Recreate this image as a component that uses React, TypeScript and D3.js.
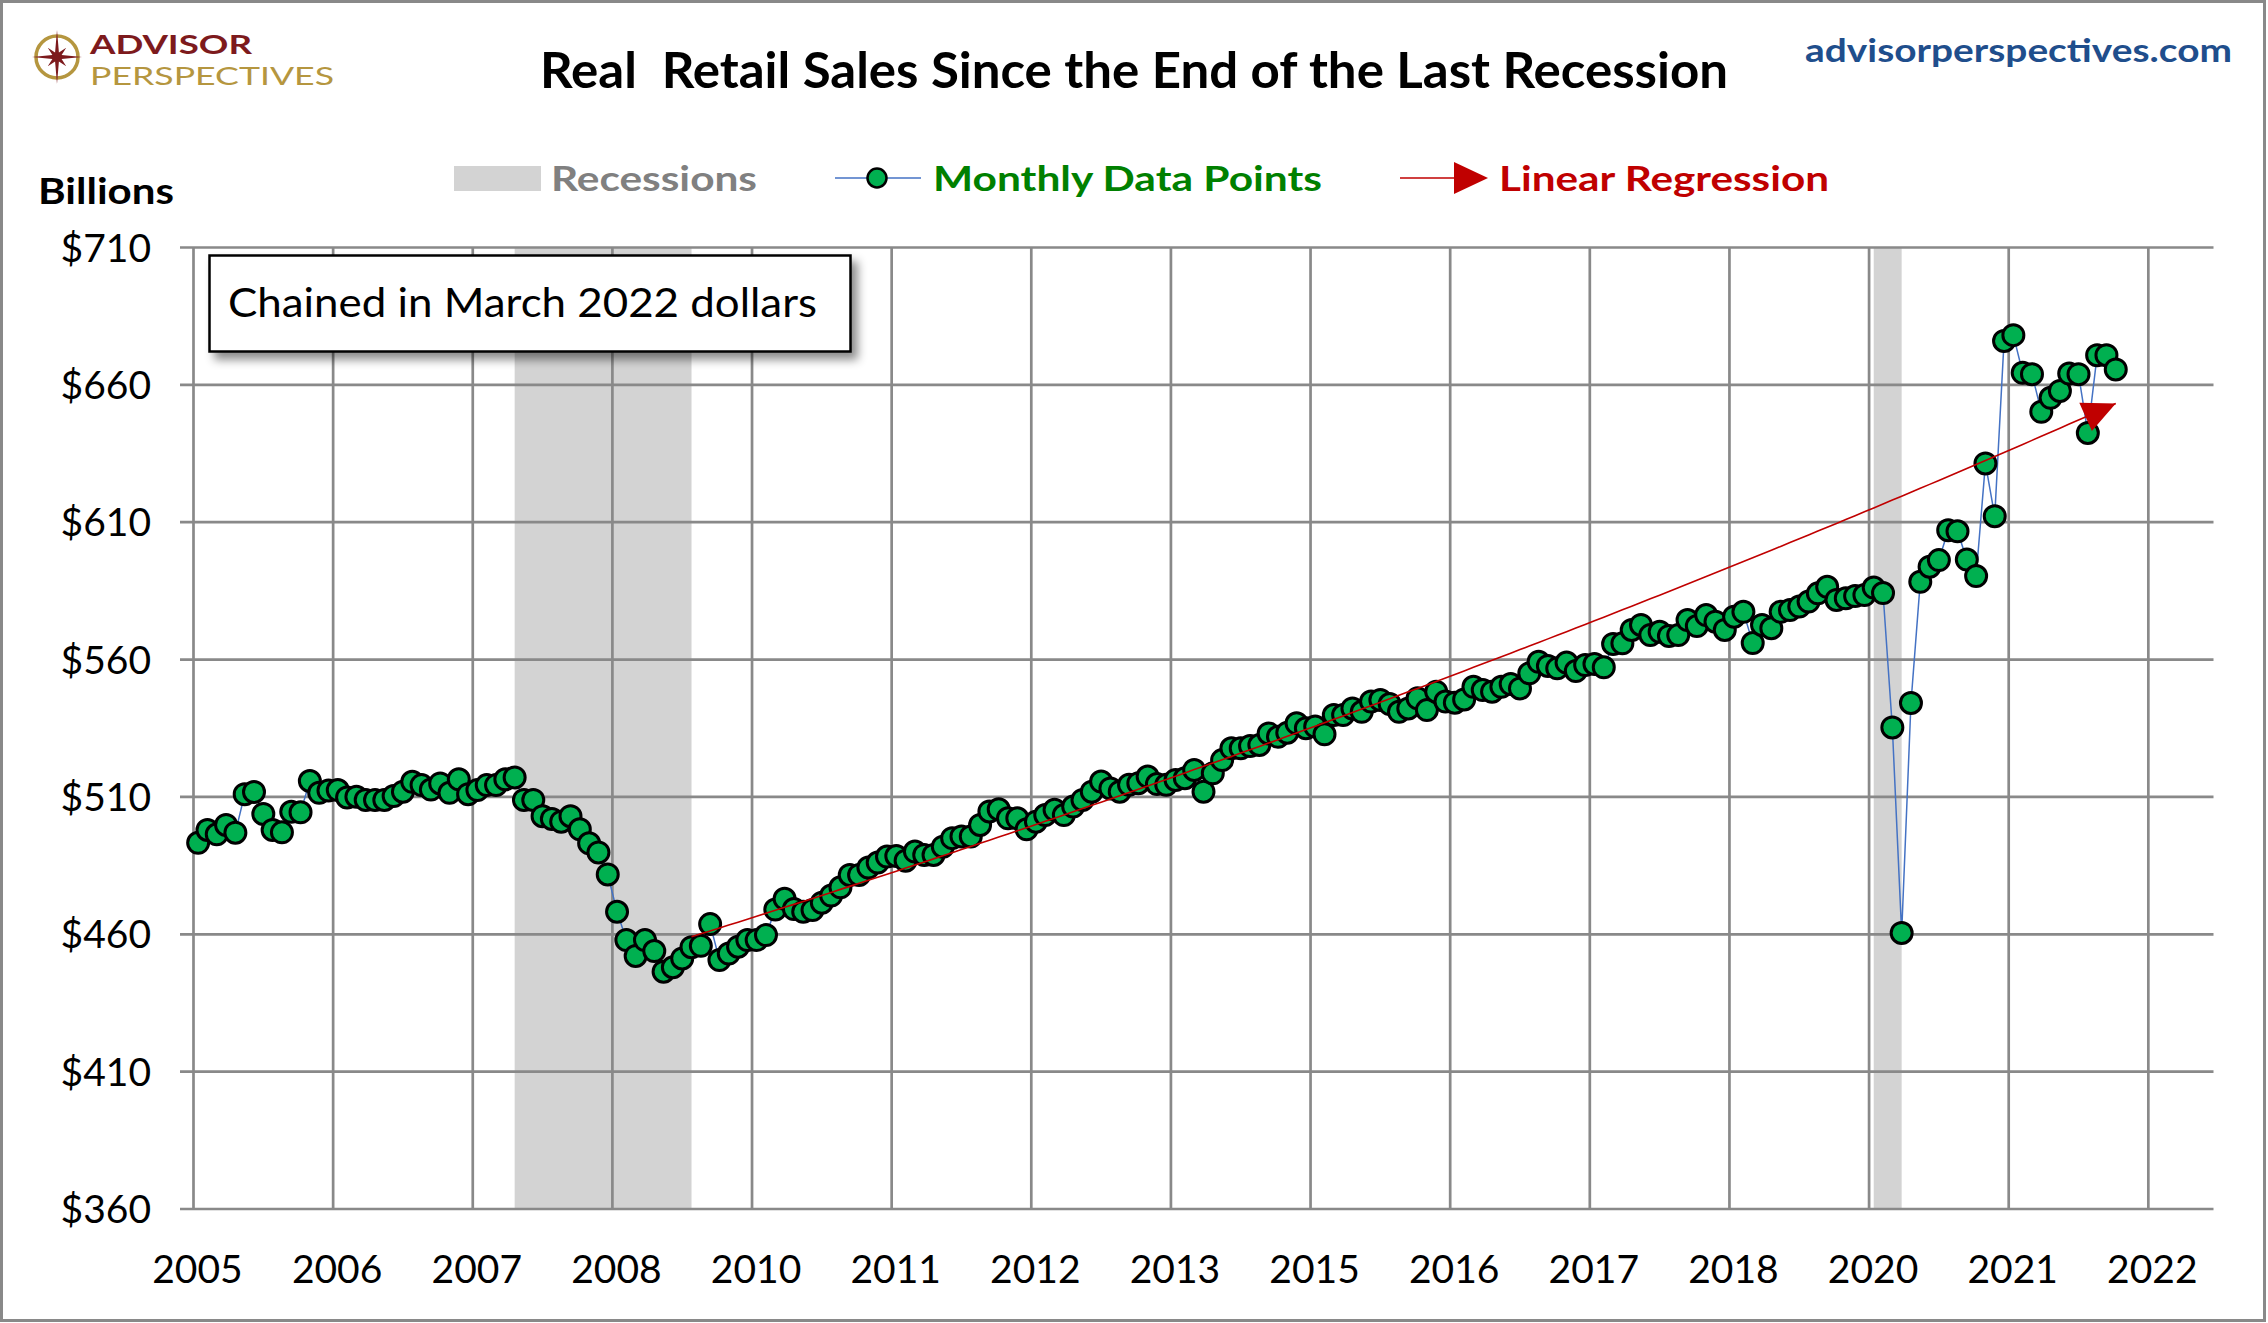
import React from 'react';
import * as d3 from 'd3';

// ---------- data ----------
const START_YEAR = 2005; // first month of the series: January 2005
const salesValues: number[] = [
  // 2005
  493.3, 498.0, 496.4, 499.8, 497.0, 511.0, 511.8, 503.8, 498.0, 497.1, 504.6, 504.4,
  // 2006
  515.8, 511.5, 512.3, 512.5, 509.8, 510.1, 508.9, 508.9, 508.9, 510.3, 511.9, 515.5,
  // 2007
  514.3, 512.7, 514.9, 511.5, 516.4, 511.0, 512.5, 514.3, 514.3, 516.4, 517.1, 508.9,
  // 2008
  508.9, 503.0, 502.0, 501.0, 503.0, 498.2, 493.1, 489.8, 481.8, 468.2, 457.9, 452.1,
  // 2009
  457.9, 453.9, 446.4, 448.0, 451.2, 455.3, 455.8, 463.7, 450.6, 453.0, 455.5, 457.9,
  // 2010
  457.9, 459.7, 469.0, 472.9, 469.2, 468.2, 468.8, 471.5, 474.1, 477.1, 481.6, 481.6,
  // 2011
  484.3, 486.1, 488.3, 488.5, 486.8, 490.1, 488.9, 488.9, 491.9, 495.0, 495.6, 495.6,
  // 2012
  499.8, 504.7, 505.5, 502.2, 502.2, 498.2, 501.0, 503.4, 505.3, 503.4, 506.5, 508.9,
  // 2013
  511.9, 515.6, 513.1, 511.9, 514.4, 515.0, 517.4, 514.7, 514.4, 516.2, 516.8, 519.8,
  // 2014
  511.9, 518.6, 523.4, 527.7, 527.7, 528.5, 528.9, 533.1, 531.9, 533.4, 536.8, 535.0,
  // 2015
  535.6, 532.8, 539.8, 539.8, 542.2, 541.0, 544.7, 545.3, 543.8, 541.0, 542.2, 545.9,
  // 2016
  541.6, 548.3, 544.7, 544.3, 545.5, 550.1, 548.9, 548.3, 550.1, 551.1, 549.5, 555.0,
  // 2017
  559.2, 557.7, 556.8, 558.9, 555.8, 558.0, 558.4, 557.2, 565.7, 565.9, 570.8, 572.6,
  // 2018
  568.9, 570.1, 568.6, 568.9, 574.4, 572.2, 576.2, 573.8, 570.8, 575.6, 577.4, 566.0,
  // 2019
  572.6, 571.4, 577.4, 578.0, 579.3, 581.1, 584.1, 586.5, 581.7, 582.3, 583.1, 583.5,
  // 2020
  586.2, 584.2, 535.3, 460.5, 544.2, 588.3, 593.8, 596.2, 607.1, 606.7, 596.4, 590.4,
  // 2021
  631.4, 612.2, 676.0, 678.1, 664.4, 663.9, 650.2, 655.3, 657.8, 664.1, 663.9, 642.5,
  // 2022
  670.8, 670.8, 665.6,
];

const yTicks: number[] = [360, 410, 460, 510, 560, 610, 660, 710];
const xTickLabels: string[] = [
  '2005', '2006', '2007', '2008', '2010', '2011', '2012', '2013',
  '2015', '2016', '2017', '2018', '2020', '2021', '2022',
];
const X_TICK_STEP_MONTHS = 15;
const X_AXIS_MONTHS = 217;

const recessions: { start: [number, number]; end: [number, number] }[] = [
  { start: [2007, 12], end: [2009, 6] },
  { start: [2020, 2], end: [2020, 4] },
];

// log-linear trend shown on the chart (end points)
const regressionStart: [number, number] = [2009, 6];
const regressionEnd: [number, number] = [2022, 3];
const regressionStartValue = 459.1;
const regressionEndValue = 653.2;

// ---------- helpers ----------
const monthIndex = ([yr, mo]: [number, number]) => (yr - START_YEAR) * 12 + (mo - 1);

const W = 2268;
const H = 1323;
const PLOT = { left: 193.5, right: 2213.5, top: 247.5, bottom: 1209 };

const FONT = "Lato, 'Open Sans', 'DejaVu Sans', sans-serif";
const GRID = '#898989';

export default function App() {
  const x = d3.scaleLinear().domain([0, X_AXIS_MONTHS]).range([PLOT.left, PLOT.right]);
  const y = d3.scaleLinear().domain([360, 710]).range([PLOT.bottom, PLOT.top]);

  const points = salesValues.map((v, i) => ({ m: i + 0.5, v }));
  const line = d3
    .line<{ m: number; v: number }>()
    .x((d) => x(d.m))
    .y((d) => y(d.v));

  // regression curve
  const r0 = monthIndex(regressionStart) + 0.5;
  const r1 = monthIndex(regressionEnd) + 0.5;
  const regPts = d3.range(r0, r1 + 0.001, 1).map((m) => ({
    m,
    v: regressionStartValue * Math.pow(regressionEndValue / regressionStartValue, (m - r0) / (r1 - r0)),
  }));
  const regPath = line(regPts) || '';
  const tip = regPts[regPts.length - 1];
  const prev = regPts[regPts.length - 2];
  const ang = Math.atan2(y(tip.v) - y(prev.v), x(tip.m) - x(prev.m));
  const tx = x(tip.m);
  const ty = y(tip.v);
  const aLen = 33;
  const aHalf = 15.5;
  const bx = tx - aLen * Math.cos(ang);
  const by = ty - aLen * Math.sin(ang);
  const arrow = [
    [tx, ty],
    [bx + aHalf * Math.sin(ang), by - aHalf * Math.cos(ang)],
    [bx - aHalf * Math.sin(ang), by + aHalf * Math.cos(ang)],
  ]
    .map((p) => p.join(','))
    .join(' ');

  const xTicks = xTickLabels.map((label, k) => ({ label, m: k * X_TICK_STEP_MONTHS }));

  // compass star for the logo
  const cx = 57;
  const cy = 57;
  const star = d3
    .range(16)
    .map((k) => {
      const a = ((-90 + k * 22.5) * Math.PI) / 180;
      let r = 5;
      if (k % 2 === 0) r = k % 4 === 0 ? (k % 8 === 0 ? 27 : 25) : 13;
      return [cx + r * Math.cos(a), cy + r * Math.sin(a)].join(',');
    })
    .join(' ');

  return (
    <svg
      width={W}
      height={H}
      viewBox={`0 0 ${W} ${H}`}
      style={{ position: 'absolute', left: 0, top: 0, display: 'block' }}
      fontFamily={FONT}
    >
      <defs>
        <filter id="boxShadow" x="-10%" y="-20%" width="130%" height="160%">
          <feDropShadow dx="6" dy="7" stdDeviation="5" floodColor="#000" floodOpacity="0.45" />
        </filter>
      </defs>
      <rect x={1.5} y={1.5} width={W - 5} height={H - 4} fill="#fff" stroke={GRID} strokeWidth={3} />

      {/* logo */}
      <circle cx={cx} cy={cy} r={21} fill="none" stroke="#B5963F" strokeWidth={3.5} />
      <polygon points={star} fill="#7D1A1D" />
      <text x={90} y={54} fontSize={27} fontWeight={700} fill="#7D1A1D" textLength={162} lengthAdjust="spacingAndGlyphs">
        ADVISOR
      </text>
      <text x={90} y={85} fontSize={25} fontWeight={400} fill="#B5963F" textLength={244} lengthAdjust="spacingAndGlyphs">
        PERSPECTIVES
      </text>

      {/* title */}
      <text x={540} y={88} fontSize={49} fontWeight={700} fill="#000" textLength={1188} lengthAdjust="spacingAndGlyphs" xmlSpace="preserve">
        Real  Retail Sales Since the End of the Last Recession
      </text>
      <text x={1805} y={62} fontSize={33} fontWeight={700} fill="#1F4E8C" textLength={427} lengthAdjust="spacingAndGlyphs">
        advisorperspectives.com
      </text>

      {/* legend */}
      <rect x={454} y={166} width={87} height={25} fill="#D3D3D3" />
      <text x={551} y={191} fontSize={35} fontWeight={700} fill="#808080" textLength={206} lengthAdjust="spacingAndGlyphs">
        Recessions
      </text>
      <line x1={835} x2={921} y1={178} y2={178} stroke="#4472C4" strokeWidth={1.5} />
      <circle cx={877} cy={178} r={9.5} fill="#00B050" stroke="#000" strokeWidth={2.5} />
      <text x={933} y={191} fontSize={35} fontWeight={700} fill="#008000" textLength={389} lengthAdjust="spacingAndGlyphs">
        Monthly Data Points
      </text>
      <line x1={1400} x2={1456} y1={178} y2={178} stroke="#C00000" strokeWidth={1.5} />
      <polygon points="1454,162 1488,178 1454,194" fill="#C00000" />
      <text x={1499} y={191} fontSize={35} fontWeight={700} fill="#C00000" textLength={330} lengthAdjust="spacingAndGlyphs">
        Linear Regression
      </text>

      <text x={38} y={204} fontSize={37} fontWeight={700} fill="#000" textLength={136} lengthAdjust="spacingAndGlyphs">
        Billions
      </text>

      {/* recession shading */}
      {recessions.map((r, i) => (
        <rect
          key={i}
          x={x(monthIndex(r.start) - 0.5)}
          y={PLOT.top}
          width={x(monthIndex(r.end) + 0.5) - x(monthIndex(r.start) - 0.5)}
          height={PLOT.bottom - PLOT.top}
          fill="#D3D3D3"
        />
      ))}

      {/* grid */}
      {yTicks.map((t) => (
        <g key={t}>
          <line x1={180} x2={PLOT.right} y1={y(t)} y2={y(t)} stroke={GRID} strokeWidth={2.7} />
          <text x={151} y={y(t) + 14} fontSize={39} textAnchor="end" fill="#000">
            {d3.format('$,')(t)}
          </text>
        </g>
      ))}
      {xTicks.map((t) => (
        <g key={t.label + t.m}>
          <line x1={x(t.m)} x2={x(t.m)} y1={PLOT.top} y2={PLOT.bottom} stroke={GRID} strokeWidth={2.7} />
          <text x={x(t.m) + 4} y={1283} fontSize={39} textAnchor="middle" fill="#000">
            {t.label}
          </text>
        </g>
      ))}

      {/* annotation box */}
      <rect x={209.5} y={255.5} width={641} height={96} fill="#fff" stroke="#000" strokeWidth={2.5} filter="url(#boxShadow)" />
      <text x={228} y={317} fontSize={40} fill="#000" textLength={589} lengthAdjust="spacingAndGlyphs">
        Chained in March 2022 dollars
      </text>

      {/* series */}
      <path d={line(points) || ''} fill="none" stroke="#4472C4" strokeWidth={1.5} />
      {points.map((p, i) => (
        <circle key={i} cx={x(p.m)} cy={y(p.v)} r={10.5} fill="#00B050" stroke="#000" strokeWidth={3} />
      ))}

      {/* regression */}
      <path d={regPath} fill="none" stroke="#C00000" strokeWidth={1.6} />
      <polygon points={arrow} fill="#C00000" />
    </svg>
  );
}
